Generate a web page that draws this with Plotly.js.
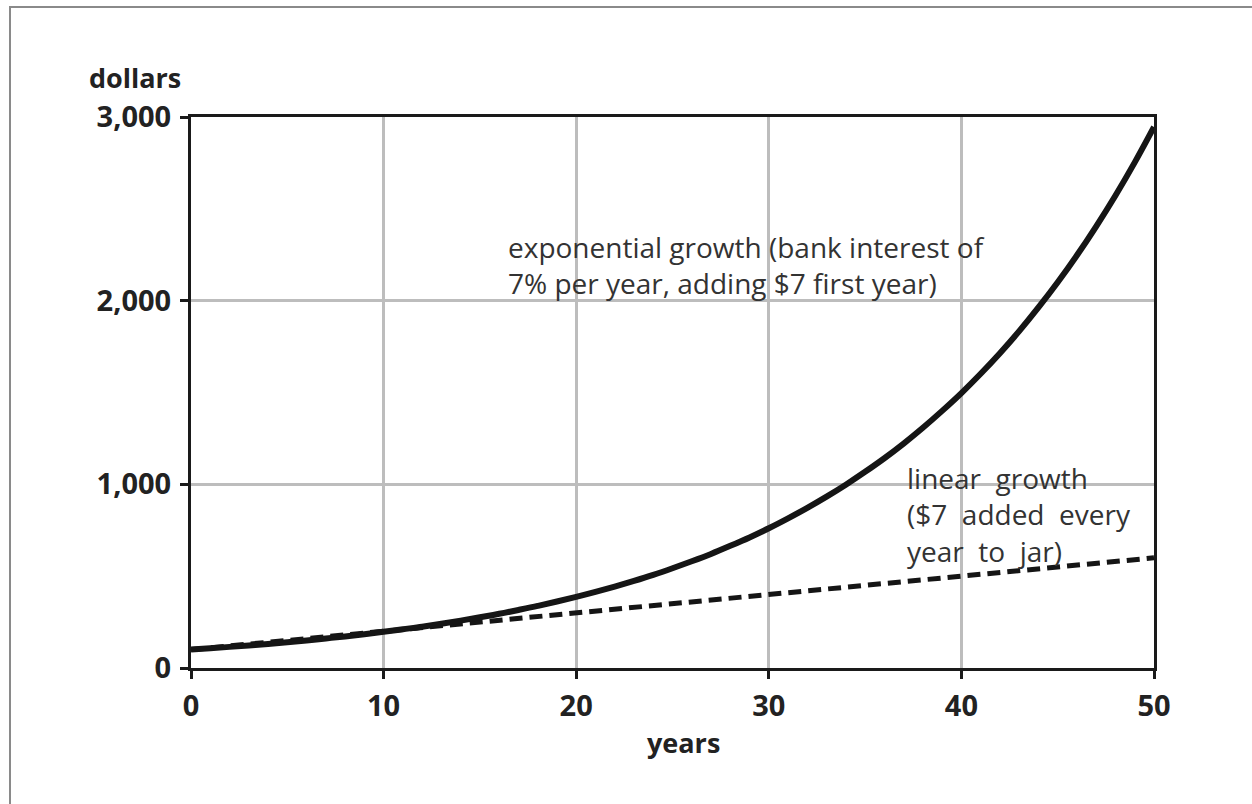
<!DOCTYPE html>
<html>
<head>
<meta charset="utf-8">
<script src="https://cdn.plot.ly/plotly-3.0.1.min.js"></script>
<style>
  html, body { margin: 0; padding: 0; background: #fff; }
  #plot { position: absolute; left: 0; top: 0; width: 1252px; height: 804px; }
  #frame { position: absolute; left: 9px; top: 6px; right: 0; bottom: 0;
           border-left: 2px solid #8a8a8a; border-top: 2px solid #8a8a8a; pointer-events: none; }
</style>
</head>
<body>
<div id="plot"></div>
<div id="frame"></div>
<script>
// Values
const years = [0,1,2,3,4,5,6,7,8,9,10,11,12,13,14,15,16,17,18,19,20,21,22,23,24,25,
               26,27,28,29,30,31,32,33,34,35,36,37,38,39,40,41,42,43,44,45,46,47,48,49,50];
const exponentialDollars = [100,107,115,123,131,140,150,161,172,184,197,211,225,241,258,276,
               295,316,338,362,387,414,443,474,507,543,581,621,665,711,761,815,872,933,998,
               1068,1142,1222,1308,1400,1497,1602,1714,1834,1963,2100,2247,2405,2573,2753,2946];
const linearYears = [0,10,20,30,40,50];
const linearDollars = [100,200,300,400,500,600];

const xTickVals = [0,10,20,30,40,50];
const xTickText = ['0','10','20','30','40','50'];
const yTickVals = [0,1000,2000,3000];
const yTickText = ['0','1,000','2,000','3,000'];

const S = '\u00a0 ';
const expLabel = ['exponential', 'growth', '(bank', 'interest', 'of'].join(' ') + '<br>' +
                 ['7%', 'per', 'year,', 'adding', '$7', 'first', 'year)'].join(' ');
const linLabel = ['linear', 'growth'].join(S) + '<br>' +
                 ['($7', 'added', 'every'].join(S) + '<br>' +
                 ['year', 'to', 'jar)'].join(S);

const FONT = 'Open Sans, Noto Sans, sans-serif';

const traces = [
  { x: linearYears, y: linearDollars, mode: 'lines', type: 'scatter',
    line: { color: '#151515', width: 5, dash: '13px,7px' }, hoverinfo: 'skip' },
  { x: years, y: exponentialDollars, mode: 'lines', type: 'scatter',
    line: { color: '#151515', width: 6, shape: 'spline' }, hoverinfo: 'skip' }
];

const layout = {
  width: 1252, height: 804,
  margin: { l: 191, r: 98, t: 117, b: 136 },
  paper_bgcolor: '#fff', plot_bgcolor: '#fff',
  showlegend: false,
  font: { family: FONT, color: '#222' },
  xaxis: {
    range: [0, 50], tickvals: xTickVals, ticktext: xTickText,
    showgrid: true, gridcolor: '#bdbdbd', gridwidth: 3,
    showline: true, linecolor: '#1a1a1a', linewidth: 3, mirror: true,
    ticks: 'outside', ticklen: 8, tickwidth: 3, tickcolor: '#1a1a1a',
    ticklabelstandoff: 2,
    tickfont: { family: FONT, size: 29, color: '#222', weight: 'bold' },
    zeroline: false, fixedrange: true
  },
  yaxis: {
    range: [0, 3000], tickvals: yTickVals, ticktext: yTickText,
    showgrid: true, gridcolor: '#bdbdbd', gridwidth: 3,
    showline: true, linecolor: '#1a1a1a', linewidth: 3, mirror: true,
    ticks: 'outside', ticklen: 8, tickwidth: 3, tickcolor: '#1a1a1a',
    ticklabelstandoff: 3,
    tickfont: { family: FONT, size: 29, color: '#222', weight: 'bold' },
    zeroline: false, fixedrange: true
  },
  annotations: [
    { text: 'dollars', xref: 'paper', yref: 'paper', x: (87-191)/963, y: (668-78)/551,
      xanchor: 'left', yanchor: 'middle', showarrow: false,
      font: { family: FONT, size: 27, color: '#222', weight: 'bold' } },
    { text: 'years', xref: 'paper', yref: 'paper', x: (683-191)/963, y: (668-742)/551,
      xanchor: 'center', yanchor: 'middle', showarrow: false,
      font: { family: FONT, size: 27, color: '#222', weight: 'bold' } },
    { text: expLabel, xref: 'paper', yref: 'paper', x: (506-191)/963, y: (668-265)/551,
      xanchor: 'left', yanchor: 'middle', align: 'left', showarrow: false,
      font: { family: FONT, size: 28, color: '#333' } },
    { text: linLabel, xref: 'paper', yref: 'paper', x: (905-191)/963, y: (668-514)/551,
      xanchor: 'left', yanchor: 'middle', align: 'left', showarrow: false,
      font: { family: FONT, size: 28, color: '#333' } }
  ]
};

Plotly.newPlot('plot', traces, layout, { displayModeBar: false, staticPlot: true });
</script>
</body>
</html>
